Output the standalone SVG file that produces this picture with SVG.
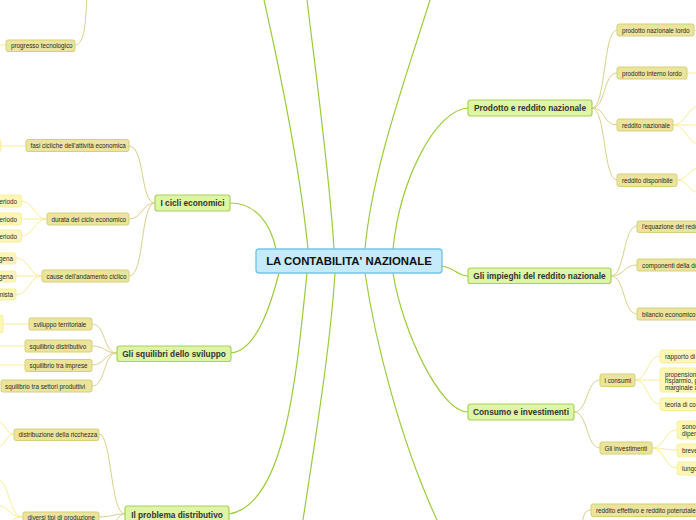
<svg xmlns="http://www.w3.org/2000/svg" width="696" height="520" viewBox="0 0 696 520">
<style>
.c0{fill:none;stroke:#9ccb3b;stroke-width:1.2}
.c1{fill:none;stroke:#d8d18a;stroke-width:1}
.c2{fill:none;stroke:#f9ec96;stroke-width:1}
.root rect{fill:#c5ebfb;stroke:#74c6ec;stroke-width:1.4}
.root text{font-family:"Liberation Sans",Arial,sans-serif;font-weight:bold;font-size:11.4px;fill:#111;text-anchor:middle}
.main rect{fill:#def5a6;stroke:#a8d15c;stroke-width:1.2}
.main text{font-family:"Liberation Sans",Arial,sans-serif;font-weight:bold;font-size:8.3px;fill:#333;text-anchor:middle}
.sub rect{fill:#ebe49a;stroke:#d6cf7c;stroke-width:1}
.sub text{font-family:"Liberation Sans",Arial,sans-serif;font-size:6.3px;fill:#2a2a2a}
.leaf rect{fill:#fdf6b4;stroke:#f6ee9c;stroke-width:1}
.leaf text{font-family:"Liberation Sans",Arial,sans-serif;font-size:6.3px;fill:#2a2a2a}
.e{text-anchor:end}
</style>
<g id="connectors">
<path class="c0" d="M230,203 C255,203 270,222 276,249"/>
<path class="c0" d="M264,0 C282,80 300,170 308,249"/>
<path class="c0" d="M307,0 C318,90 330,180 334,249"/>
<path class="c0" d="M430,0 C405,80 372,170 365,249"/>
<path class="c0" d="M468,108 C435,110 400,180 393,249"/>
<path class="c0" d="M442,266 C455,268 458,276 468,276"/>
<path class="c0" d="M393,273 C402,330 440,412 468,412"/>
<path class="c0" d="M365,273 C375,340 400,440 437,520"/>
<path class="c0" d="M335,273 C330,350 315,440 303,520"/>
<path class="c0" d="M307,273 C296,380 285,505 229,514"/>
<path class="c0" d="M279,273 C272,300 258,350 231,353"/>
<path class="c1" d="M75,45 C85,45 86,20 87,-10"/>
<path class="c1" d="M155,203 C140,203 145,146 129,146"/>
<path class="c1" d="M155,203 C142,203 142,219 129,219"/>
<path class="c1" d="M155,203 C140,203 145,276 129,276"/>
<path class="c1" d="M117,353 C103,353 106,324 92,324"/>
<path class="c1" d="M117,353 C104,353 105,346 92,346"/>
<path class="c1" d="M117,353 C104,353 105,365 92,365"/>
<path class="c1" d="M117,353 C103,353 106,386 92,386"/>
<path class="c1" d="M125,514 C110,514 112,434 99,434"/>
<path class="c1" d="M125,514 C112,514 112,517 99,517"/>
<path class="c1" d="M125,514 C112,514 112,545 99,545"/>
<path class="c1" d="M592,108 C606,108 603,30 617,30"/>
<path class="c1" d="M592,108 C606,108 603,73 617,73"/>
<path class="c1" d="M592,108 C606,108 603,125 617,125"/>
<path class="c1" d="M592,108 C606,108 603,180 617,180"/>
<path class="c1" d="M611,276 C625,276 623,226 637,226"/>
<path class="c1" d="M611,276 C625,276 623,265 637,265"/>
<path class="c1" d="M611,276 C625,276 623,314 637,314"/>
<path class="c1" d="M574,412 C588,412 586,380 600,380"/>
<path class="c1" d="M574,412 C588,412 586,448 600,448"/>
<path class="c1" d="M591,510 C582,510 584,520 580,530"/>
<path class="c2" d="M-5,45 L6,45"/>
<path class="c2" d="M1,146 L26,146"/>
<path class="c2" d="M47,219 C34,219 34,201 21,201"/>
<path class="c2" d="M47,219 L21,219"/>
<path class="c2" d="M47,219 C34,219 34,236 21,236"/>
<path class="c2" d="M42,276 C29,276 29,258 16,258"/>
<path class="c2" d="M42,276 L16,276"/>
<path class="c2" d="M42,276 C29,276 29,295 16,295"/>
<path class="c2" d="M3,324 L29,324"/>
<path class="c2" d="M-2,346 L25,346"/>
<path class="c2" d="M-2,365 L25,365"/>
<path class="c2" d="M14,434 C5,434 6,422 -2,422"/>
<path class="c2" d="M14,434 C5,434 6,447 -2,447"/>
<path class="c2" d="M23,517 C8,517 10,478 -5,478"/>
<path class="c2" d="M23,517 C8,517 10,505 -5,505"/>
<path class="c2" d="M23,517 C8,517 10,530 -5,530"/>
<path class="c2" d="M694,30 L700,30"/>
<path class="c2" d="M687,73 L700,73"/>
<path class="c2" d="M673,125 C686,125 687,106 700,106"/>
<path class="c2" d="M673,125 L700,125"/>
<path class="c2" d="M673,125 C686,125 687,144 700,144"/>
<path class="c2" d="M677,180 C688,180 689,168 700,168"/>
<path class="c2" d="M677,180 C688,180 689,193 700,193"/>
<path class="c2" d="M635,380 C648,380 647,356 660,356"/>
<path class="c2" d="M635,380 L660,380"/>
<path class="c2" d="M635,380 C648,380 647,404 660,404"/>
<path class="c2" d="M652,448 C665,448 664,430 677,430"/>
<path class="c2" d="M652,448 C665,448 664,450 677,450"/>
<path class="c2" d="M652,448 C665,448 664,468 677,468"/>
</g>
<g id="root" class="root"><rect x="256" y="249" width="186" height="24" rx="3"/><text x="349" y="265">LA CONTABILITA' NAZIONALE</text></g>
<g id="n-cicli" class="main"><rect x="155" y="195" width="75" height="16" rx="2.5"/><text x="192.5" y="206">I cicli economici</text></g>
<g id="n-squilibri" class="main"><rect x="117" y="346" width="114" height="15.5" rx="2.5"/><text x="174" y="356.5">Gli squilibri dello sviluppo</text></g>
<g id="n-problema" class="main"><rect x="125" y="506" width="104" height="18" rx="2.5"/><text x="177" y="517.5">Il problema distributivo</text></g>
<g id="n-prodotto" class="main"><rect x="468" y="100" width="124" height="16" rx="2.5"/><text x="530" y="111">Prodotto e reddito nazionale</text></g>
<g id="n-impieghi" class="main"><rect x="468" y="268" width="143" height="15.5" rx="2.5"/><text x="539.5" y="279">Gli impieghi del reddito nazionale</text></g>
<g id="n-consumo" class="main"><rect x="468" y="404" width="106" height="16" rx="2.5"/><text x="521" y="415">Consumo e investimenti</text></g>
<g id="s-progresso" class="sub"><rect x="6" y="40" width="69" height="11.5" rx="2"/><text x="11" y="48">progresso tecnologico</text></g>
<g id="s-fasi" class="sub"><rect x="26" y="139.5" width="103" height="12" rx="2"/><text x="30.5" y="148">fasi cicliche dell'attività economica</text></g>
<g id="s-durata" class="sub"><rect x="47" y="213" width="82" height="12" rx="2"/><text x="51.5" y="221.5">durata del ciclo economico</text></g>
<g id="s-cause" class="sub"><rect x="42" y="270" width="87" height="12" rx="2"/><text x="46.5" y="278.5">cause dell'andamento ciclico</text></g>
<g id="s-sviluppo" class="sub"><rect x="29" y="318" width="63" height="12" rx="2"/><text x="33.5" y="326.5">sviluppo territoriale</text></g>
<g id="s-distributivo" class="sub"><rect x="25" y="340" width="67" height="12" rx="2"/><text x="29.5" y="348.5">squilibrio distributivo</text></g>
<g id="s-imprese" class="sub"><rect x="25" y="359.5" width="67" height="12" rx="2"/><text x="29.5" y="368">squilibrio tra imprese</text></g>
<g id="s-settori" class="sub"><rect x="1" y="380" width="91" height="12" rx="2"/><text x="5" y="388.5">squilibrio tra settori produttivi</text></g>
<g id="s-ricchezza" class="sub"><rect x="14" y="429" width="85" height="11.5" rx="2"/><text x="18.5" y="437">distribuzione della ricchezza</text></g>
<g id="s-tipi" class="sub"><rect x="23" y="512" width="76" height="12" rx="2"/><text x="27.5" y="520">diversi tipi di produzione</text></g>
<g id="s-pnl" class="sub"><rect x="617" y="24" width="77" height="12" rx="2"/><text x="622" y="32.5">prodotto nazionale lordo</text></g>
<g id="s-pil" class="sub"><rect x="617" y="67" width="70" height="12" rx="2"/><text x="622" y="75.5">prodotto interno lordo</text></g>
<g id="s-rn" class="sub"><rect x="617" y="119" width="56" height="12" rx="2"/><text x="622" y="127.5">reddito nazionale</text></g>
<g id="s-rd" class="sub"><rect x="617" y="174" width="60" height="12.5" rx="2"/><text x="622" y="182.5">reddito disponibile</text></g>
<g id="s-equazione" class="sub"><rect x="637" y="221" width="70" height="11.5" rx="2"/><text x="642" y="229">l'equazione del redd</text></g>
<g id="s-componenti" class="sub"><rect x="637" y="259" width="70" height="12" rx="2"/><text x="642" y="267.5">componenti della do</text></g>
<g id="s-bilancio" class="sub"><rect x="637" y="308" width="70" height="12" rx="2"/><text x="642" y="316.5">bilancio economico</text></g>
<g id="s-consumi" class="sub"><rect x="600" y="374" width="35" height="12.5" rx="2"/><text x="604.5" y="382.5">i consumi</text></g>
<g id="s-investimenti" class="sub"><rect x="600" y="442" width="52" height="12" rx="2"/><text x="604.5" y="450.5">Gli investimenti</text></g>
<g id="s-effettivo" class="sub"><rect x="591" y="504" width="110" height="12.5" rx="2"/><text x="596" y="512.5">reddito effettivo e reddito potenziale</text></g>
<g id="l-fasi" class="leaf"><rect x="-40" y="140" width="41" height="12" rx="2.5"/></g>
<g id="l-periodo1" class="leaf"><rect x="-40" y="195" width="61.5" height="12" rx="2.5"/><text class="e" x="17" y="203.5">periodo</text></g>
<g id="l-periodo2" class="leaf"><rect x="-40" y="213" width="61.5" height="12" rx="2.5"/><text class="e" x="17" y="221.5">periodo</text></g>
<g id="l-periodo3" class="leaf"><rect x="-40" y="230" width="61.5" height="12" rx="2.5"/><text class="e" x="17" y="238.5">periodo</text></g>
<g id="l-gena1" class="leaf"><rect x="-40" y="253" width="56" height="11" rx="2.5"/><text class="e" x="13" y="261">gena</text></g>
<g id="l-gena2" class="leaf"><rect x="-40" y="271" width="56" height="11" rx="2.5"/><text class="e" x="13" y="279">gena</text></g>
<g id="l-nista" class="leaf"><rect x="-40" y="289" width="56" height="11" rx="2.5"/><text class="e" x="13" y="297">nista</text></g>
<g id="l-sviluppo" class="leaf"><rect x="-40" y="315" width="43" height="18" rx="2.5"/></g>
<g id="l-rapporto" class="leaf"><rect x="660" y="350" width="50" height="13" rx="2.5"/><text x="665" y="359">rapporto di</text></g>
<g id="l-propensione" class="leaf"><rect x="660" y="368" width="50" height="24" rx="2.5"/><text x="665" y="376.5">propensione</text><text x="665" y="383">risparmio, p</text><text x="665" y="389.5">marginale a</text></g>
<g id="l-teoria" class="leaf"><rect x="660" y="398" width="50" height="12.5" rx="2.5"/><text x="665" y="406.5">teoria di co</text></g>
<g id="l-sono" class="leaf"><rect x="677" y="421" width="30" height="18" rx="2.5"/><text x="682" y="429">sono</text><text x="682" y="435.5">dipen</text></g>
<g id="l-breve" class="leaf"><rect x="677" y="444" width="30" height="13" rx="2.5"/><text x="682" y="452.5">breve</text></g>
<g id="l-lungo" class="leaf"><rect x="677" y="462" width="30" height="13" rx="2.5"/><text x="682" y="470.5">lungo</text></g>
</svg>
